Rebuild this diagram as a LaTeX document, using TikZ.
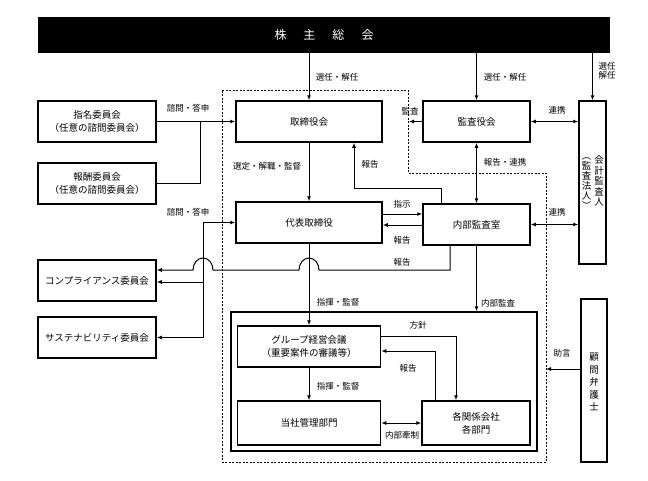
\documentclass[tikz,border=0pt]{standalone}
\usepackage{fontspec}
\setmainfont{Noto Sans CJK JP}
\usetikzlibrary{arrows.meta}
\begin{document}
\begin{tikzpicture}[x=1pt,y=-1pt,
  box/.style={draw,line width=1.5pt,inner sep=0pt,align=center,font=\fontsize{9.5}{13}\selectfont},
  vtext/.style={inner sep=0pt,align=center,font=\fontsize{9.5}{10.5}\selectfont},
  lbl/.style={inner sep=0pt,align=center,font=\fontsize{8.5}{9}\selectfont},
  conn/.style={line width=1pt},
  arr/.style={conn,-{Latex[length=5pt,width=4pt]}},
  darr/.style={conn,{Latex[length=5pt,width=4pt]}-{Latex[length=5pt,width=4pt]}},
  dregion/.style={line width=0.8pt,dash pattern=on 2pt off 1.5pt},
]
\useasboundingbox (0,0) rectangle (648,480);
% banner
\node[fill=black,minimum width=572pt,minimum height=36pt,inner sep=0pt,text=white,font=\fontsize{12}{14}\selectfont] (gm) at (324,35) {株\hspace{17pt}主\hspace{17pt}総\hspace{17pt}会};
% dashed region (board)
\draw[dregion] (222,90) -- (408,90) -- (408,173) -- (546,173) -- (546,462) -- (222,462) -- cycle;
% boxes
\node[box,minimum width=118pt,minimum height=41pt] (shimei) at (97,121.5) {指名委員会\\（任意の諮問委員会）};
\node[box,minimum width=118pt,minimum height=41pt] (houshu) at (97,183.5) {報酬委員会\\（任意の諮問委員会）};
\node[box,minimum width=146pt,minimum height=41pt] (tb) at (309,121.5) {取締役会};
\node[box,minimum width=107pt,minimum height=41pt] (ka) at (476.5,121.5) {監査役会};
\node[box,minimum width=27pt,minimum height=163pt] (kk) at (592.5,182.5) {};
\node[vtext] (kkt1) at (599,181) {会\\計\\監\\査\\人};
\node[vtext,font=\fontsize{9.5}{10}\selectfont] (kkt2) at (586.5,184) {︵\\監\\査\\法\\人\\︶};
\node[box,minimum width=146pt,minimum height=41pt] (dh) at (309,222.5) {代表取締役};
\node[box,minimum width=107pt,minimum height=41pt] (nb) at (476.5,224.5) {内部監査室};
\node[box,minimum width=118pt,minimum height=41pt] (comp) at (97,280.5) {コンプライアンス委員会};
\node[box,minimum width=118pt,minimum height=41pt] (sus) at (97,337.5) {サステナビリティ委員会};
\node[draw,line width=1.3pt,inner sep=0pt,minimum width=306pt,minimum height=139pt] (cont) at (384,381.5) {};
\node[box,minimum width=143pt,minimum height=41pt] (grp) at (309,346.5) {グループ経営会議\\（重要案件の審議等）};
\node[box,minimum width=143pt,minimum height=44pt] (ts) at (309,423) {当社管理部門};
\node[box,minimum width=108pt,minimum height=44pt] (kg) at (476,423) {各関係会社\\各部門};
\node[box,minimum width=26pt,minimum height=163pt] (km) at (594,380.5) {};
\node[vtext,font=\fontsize{9.5}{12.5}\selectfont] (kmt) at (594,382) {顧\\問\\弁\\護\\士};
% coordinates
\coordinate (j1) at (200,121.5);
\coordinate (j2) at (203,282);
\coordinate (j3) at (203,337.5);
\coordinate (r1) at (441,188);
\coordinate (r2) at (354,188);
\coordinate (kansa) at (409,121.5);
\coordinate (b1) at (450,270);
\coordinate (p1) at (456,336);
\coordinate (q1) at (435,351);
\coordinate (adv) at (546,369);
% connectors
\draw[arr] (gm.south -| tb.north) -- (tb.north);
\draw[arr] (gm.south -| ka.north) -- (ka.north);
\draw[arr] (gm.south -| kk.north) -- (kk.north);
\draw[arr] (shimei.east) -- (tb.west);
\draw[conn] (houshu.east) -| (j1);
\draw[arr] (tb.south) -- (dh.north);
\draw[arr] (nb.north -| r1) -- (r1) -- (r2) -- (tb.south -| r2);
\draw[arr] (ka.west) -- (kansa);
\draw[darr] (ka.east) -- (ka.east -| kk.west);
\draw[darr] (ka.south) -- (nb.north);
\draw[arr] ([yshift=8.5pt]dh.east) -- ([yshift=8.5pt]dh.east -| nb.west);
\draw[arr] ([yshift=-2.5pt]dh.east -| nb.west) -- ([yshift=-2.5pt]dh.east);
\draw[darr] (nb.east) -- (nb.east -| kk.west);
\draw[arr] (nb.south -| b1) -- (b1) -- (319,270) arc[start angle=0,end angle=180,x radius=10pt,y radius=12pt] -- (213,270) arc[start angle=0,end angle=180,x radius=10pt,y radius=12pt] -- (comp.east |- b1);
\draw[arr] (j3) |- (dh.west);
\draw[arr] (j3) -- (sus.east);
\draw[arr] (j2) -- (comp.east |- j2);
\draw[arr] (dh.south) -- (grp.north);
\draw[arr] (nb.south) -- (nb.south |- cont.north);
\draw[arr] (grp.south) -- (ts.north);
\draw[arr] (grp.east |- p1) -- (p1) -- (p1 |- kg.north);
\draw[arr] (kg.north -| q1) -- (q1) -- (grp.east |- q1);
\draw[darr] (ts.east) -- (kg.west);
\draw[arr] (km.west |- adv) -- (adv);
% labels
\node[lbl] (l1) at (337,77) {選任・解任};
\node[lbl] (l2) at (505,77) {選任・解任};
\node[lbl] (l3) at (607,71) {選任\\解任};
\node[lbl] (l4) at (188,108) {諮問・答申};
\node[lbl] (l5) at (188,212) {諮問・答申};
\node[lbl] (l6) at (267,166) {選定・解職・監督};
\node[lbl] (l7) at (370,164) {報告};
\node[lbl] (l8) at (410,111) {監査};
\node[lbl] (l9) at (557,110) {連携};
\node[lbl] (l10) at (505,162) {報告・連携};
\node[lbl] (l11) at (402,204) {指示};
\node[lbl] (l12) at (402,240) {報告};
\node[lbl] (l13) at (557,212) {連携};
\node[lbl] (l14) at (402,262) {報告};
\node[lbl] (l15) at (338,302) {指揮・監督};
\node[lbl] (l16) at (498,303) {内部監査};
\node[lbl] (l17) at (418,325) {方針};
\node[lbl] (l18) at (408,368) {報告};
\node[lbl] (l19) at (338,386) {指揮・監督};
\node[lbl] (l20) at (402,435) {内部牽制};
\node[lbl] (l21) at (562,353) {助言};
\end{tikzpicture}
\end{document}
